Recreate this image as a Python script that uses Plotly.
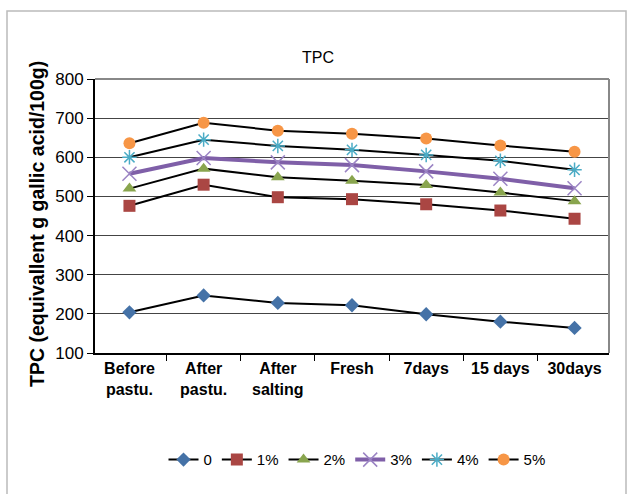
import plotly.graph_objects as go

categories = ["Before<br>pastu.", "After<br>pastu.", "After<br>salting", "Fresh", "7days", "15 days", "30days"]
series_names = ["0", "1%", "2%", "3%", "4%", "5%"]
s0 = [204, 247, 228, 222, 199, 180, 164]
s1 = [476, 530, 498, 493, 480, 464, 443]
s2 = [520, 571, 549, 540, 529, 510, 488]
s3 = [558, 598, 587, 580, 564, 545, 521]
s4 = [600, 645, 629, 619, 606, 591, 568]
s5 = [636, 688, 668, 660, 648, 630, 614]
values = [s0, s1, s2, s3, s4, s5]
y_title = "TPC (equivallent g gallic acid/100g)"

marker_symbols = ["diamond", "square", "triangle-up", "x-thin-open", "asterisk-open", "circle"]
marker_colors = ["#4572A7", "#AA4643", "#89A54E", "#9B84C4", "#4BACC6", "#F79646"]
line_colors = ["black", "black", "black", "#7F5FA8", "black", "black"]
line_widths = [2, 2, 2, 4, 2, 2]
marker_sizes = [11, 12, 12, 14, 12, 12]

FONT = "Liberation Sans, Arial, sans-serif"

fig = go.Figure()
for name, vals, sym, mc, lc, lw, ms in zip(series_names, values, marker_symbols,
                                          marker_colors, line_colors, line_widths, marker_sizes):
    mk = dict(symbol=sym, color=mc, size=ms)
    if sym.endswith("open"):
        mk["line"] = dict(color=mc, width=1.5)
    fig.add_trace(go.Scatter(x=categories, y=vals, name=name, mode="lines+markers",
                             line=dict(color=lc, width=lw), marker=mk))

fig.update_layout(
    width=631, height=494,
    margin=dict(l=95, r=22, t=79, b=141),
    paper_bgcolor="white", plot_bgcolor="white",
    showlegend=True,
    title=dict(text="TPC", x=(318 - 95) / 514, xref="paper", xanchor="center",
               y=1 - 57 / 494, yanchor="middle",
               font=dict(family=FONT, size=16, color="black")),
    legend=dict(orientation="h", x=(357 - 95) / 514, xanchor="center", xref="paper",
                y=-0.39, yanchor="middle", font=dict(family=FONT, size=15, color="black"),
                itemwidth=30, tracegroupgap=0),
    font=dict(family=FONT, color="black"),
    shapes=[dict(type="rect", xref="paper", yref="paper",
                 x0=(7 - 95) / 514, x1=(626 - 95) / 514,
                 y0=-0.6, y1=1 + (79 - 11) / 274,
                 line=dict(color="#BBBBBB", width=1.5), layer="below")],
    annotations=[dict(text="<b>" + y_title + "</b>", textangle=-90, showarrow=False,
                      xref="paper", yref="paper",
                      x=(37 - 95) / 514, y=(353 - 224) / 274,
                      xanchor="center", yanchor="middle",
                      font=dict(family=FONT, size=19.5, color="black"))],
)

fig.update_xaxes(
    type="category", showgrid=False, showline=True, linecolor="black", linewidth=2,
    mirror=False, ticks="outside", tickson="boundaries", ticklen=6, tickcolor="black",
    tickfont=dict(family=FONT, size=16, color="black"),
    tickprefix="<b>", ticksuffix="</b>",
)
fig.update_yaxes(
    range=[100, 800], dtick=100, showgrid=True, gridcolor="#444444", gridwidth=1,
    showline=True, linecolor="black", linewidth=2, ticks="outside", ticklen=6,
    tickcolor="black", tickfont=dict(family=FONT, size=17, color="black"),
    zeroline=False,
)
# gray border at top and right of plot area
fig.add_shape(type="line", xref="paper", yref="paper", x0=0, x1=1, y0=1, y1=1,
              line=dict(color="#888888", width=2))
fig.add_shape(type="line", xref="paper", yref="paper", x0=1, x1=1, y0=0, y1=1,
              line=dict(color="#888888", width=2))

fig.write_html("out.html")
